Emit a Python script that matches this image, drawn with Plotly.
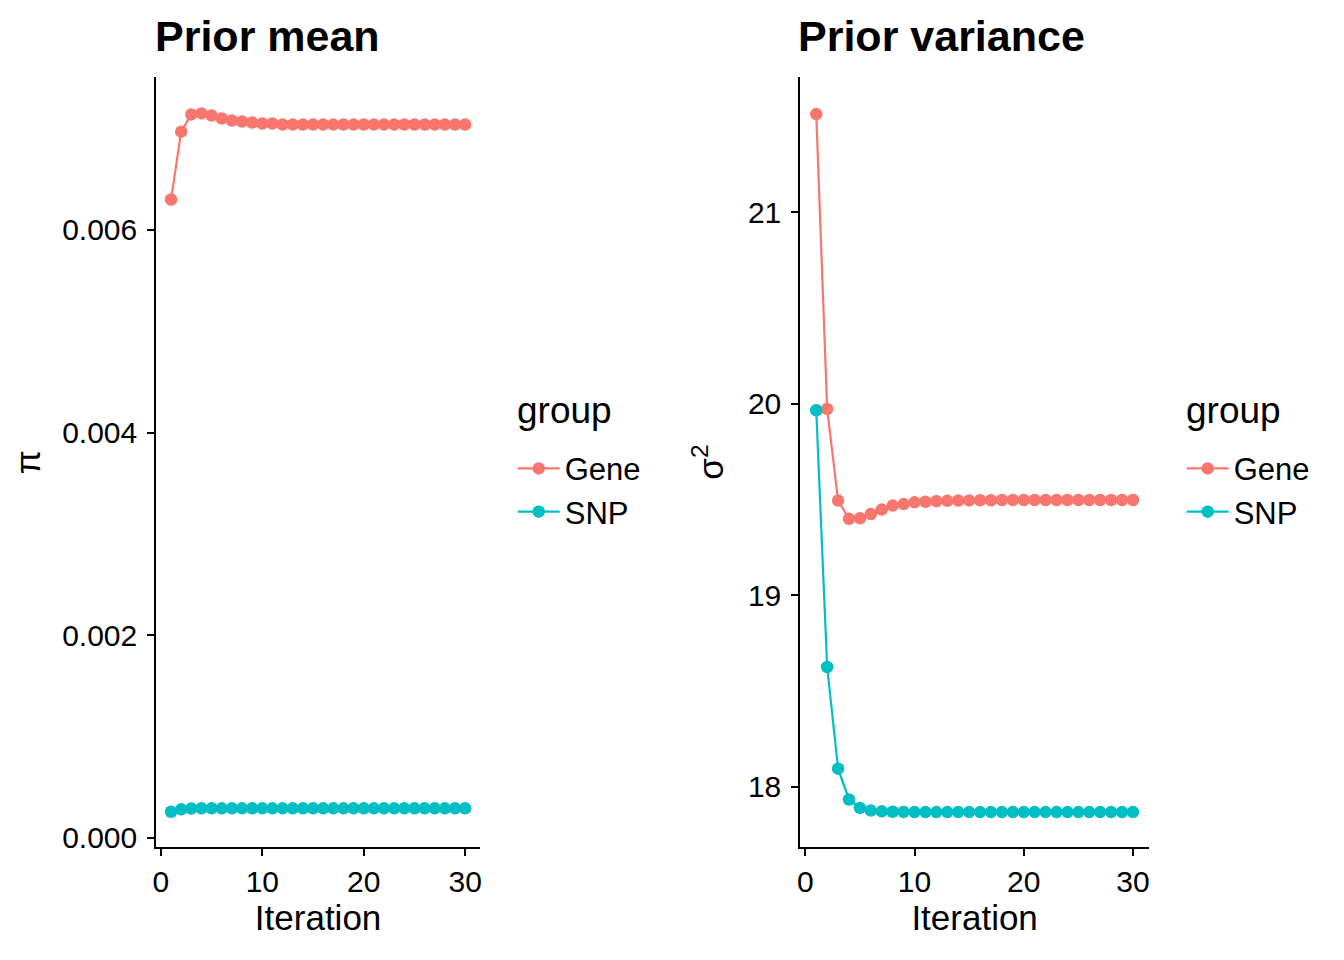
import plotly.graph_objects as go

iterations = list(range(1, 31))

pi_gene = [0.00630, 0.00697, 0.00714, 0.00715, 0.00713, 0.00710, 0.00708, 0.00707,
           0.00706, 0.00705, 0.00705, 0.00704, 0.00704, 0.00704, 0.00704, 0.00704,
           0.00704, 0.00704, 0.00704, 0.00704, 0.00704, 0.00704, 0.00704, 0.00704,
           0.00704, 0.00704, 0.00704, 0.00704, 0.00704, 0.00704]
pi_snp = [0.000256, 0.000280, 0.000288, 0.000290, 0.000290, 0.000290, 0.000290, 0.000290,
          0.000290, 0.000290, 0.000290, 0.000290, 0.000290, 0.000290, 0.000290, 0.000290,
          0.000290, 0.000290, 0.000290, 0.000290, 0.000290, 0.000290, 0.000290, 0.000290,
          0.000290, 0.000290, 0.000290, 0.000290, 0.000290, 0.000290]

var_gene = [21.514, 19.974, 19.495, 19.400, 19.403, 19.425, 19.448, 19.469, 19.477, 19.486,
            19.489, 19.492, 19.494, 19.495, 19.496, 19.497, 19.497, 19.498, 19.498, 19.498,
            19.498, 19.498, 19.498, 19.498, 19.498, 19.498, 19.498, 19.498, 19.498, 19.498]
var_snp = [19.967, 18.626, 18.095, 17.934, 17.890, 17.876, 17.872, 17.870, 17.869, 17.868,
           17.868, 17.868, 17.868, 17.868, 17.868, 17.868, 17.868, 17.868, 17.868, 17.868,
           17.868, 17.868, 17.868, 17.868, 17.868, 17.868, 17.868, 17.868, 17.868, 17.868]

groups = ["Gene", "SNP"]
colors = {"Gene": "#F8766D", "SNP": "#00BFC4"}

x_ticks = [0, 10, 20, 30]
pi_ticks = [0.000, 0.002, 0.004, 0.006]
var_ticks = [18, 19, 20, 21]

OFF = 8  # default page body margin
W, H = 1324, 936
FONT = "Liberation Sans, Arial, Helvetica, sans-serif"


def px(x):
    return (x - OFF) / W


def py(y):
    return 1 - (y - OFF) / H


fig = go.Figure()


def add(x, y, name, xa, ya, legend):
    fig.add_trace(go.Scatter(
        x=x, y=y, name=name, mode="lines+markers",
        line=dict(color=colors[name], width=2.2),
        marker=dict(color=colors[name], size=12.5),
        xaxis=xa, yaxis=ya, legend=legend, showlegend=True))


add(iterations, pi_gene, "Gene", "x", "y", "legend")
add(iterations, pi_snp, "SNP", "x", "y", "legend")
add(iterations, var_gene, "Gene", "x2", "y2", "legend2")
add(iterations, var_snp, "SNP", "x2", "y2", "legend2")

top = py(78)
bot = py(853)

axis_common = dict(showline=True, linecolor="black", linewidth=2.2, ticks="outside",
                   ticklen=7, tickwidth=2.2, tickcolor="black", showgrid=False,
                   zeroline=False, tickfont=dict(size=30, color="black", family=FONT),
                   mirror=False)

legend_common = dict(xanchor="left", yanchor="top",
                     font=dict(size=31, color="black", family=FONT),
                     bgcolor="rgba(0,0,0,0)", itemwidth=42, tracegroupgap=0)

fig.update_layout(
    width=W, height=H,
    margin=dict(l=0, r=0, t=0, b=0),
    paper_bgcolor="white", plot_bgcolor="white",
    font=dict(family=FONT, color="black"),
    xaxis=dict(domain=[px(153), px(478)], anchor="y", range=[-0.45, 31.45],
               tickvals=x_ticks, ticktext=[str(v) for v in x_ticks],
               title=dict(text="Iteration", font=dict(size=35, color="black"), standoff=3),
               **axis_common),
    yaxis=dict(domain=[bot, top], anchor="x", range=[-0.0000885, 0.007505],
               tickvals=pi_ticks, ticktext=[f"{v:.3f}" for v in pi_ticks],
               title=dict(text="π", font=dict(size=35, color="black"), standoff=16),
               ticklabelstandoff=4,
               **axis_common),
    xaxis2=dict(domain=[px(800), px(1150)], anchor="y2", range=[-0.45, 31.45],
                tickvals=x_ticks, ticktext=[str(v) for v in x_ticks],
                title=dict(text="Iteration", font=dict(size=35, color="black"), standoff=3),
                **axis_common),
    yaxis2=dict(domain=[bot, top], anchor="x2", range=[17.6875, 21.705],
                tickvals=var_ticks, ticktext=[str(v) for v in var_ticks],
                title=dict(text="σ<sup>2</sup>", font=dict(size=35, color="black"), standoff=14),
                ticklabelstandoff=4,
                **axis_common),
    legend=dict(x=px(511), y=py(445), **legend_common),
    legend2=dict(x=px(1183), y=py(445), **legend_common),
    annotations=[
        dict(text="<b>Prior mean</b>", x=px(150), y=py(36), xref="paper", yref="paper",
             xanchor="left", yanchor="middle", showarrow=False,
             font=dict(size=43, color="black", family=FONT)),
        dict(text="<b>Prior variance</b>", x=px(796), y=py(36), xref="paper", yref="paper",
             xanchor="left", yanchor="middle", showarrow=False,
             font=dict(size=43, color="black", family=FONT)),
        dict(text="group", x=px(513), y=py(414), xref="paper", yref="paper",
             xanchor="left", yanchor="middle", showarrow=False,
             font=dict(size=37, color="black", family=FONT)),
        dict(text="group", x=px(1185), y=py(414), xref="paper", yref="paper",
             xanchor="left", yanchor="middle", showarrow=False,
             font=dict(size=37, color="black", family=FONT)),
    ],
)

fig.write_html("out.html")
